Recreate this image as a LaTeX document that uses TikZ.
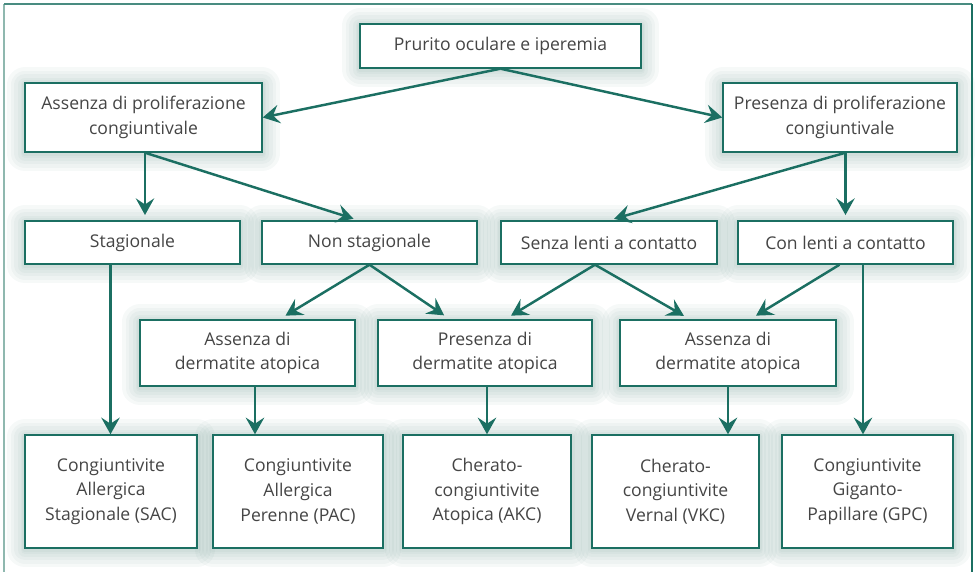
\documentclass[tikz,border=0pt]{standalone}
\usepackage{fontspec}
\setmainfont{Open Sans}
\usetikzlibrary{arrows.meta,calc}
\definecolor{tl}{HTML}{1B6F62}
\definecolor{txt}{HTML}{454545}
\definecolor{fr}{HTML}{8FB8AF}
\definecolor{glow}{HTML}{5E8C84}
\begin{document}
\begin{tikzpicture}[x=0.02cm,y=-0.02cm,
  sz/.style 2 args={minimum width=#1*0.02cm, minimum height=#2*0.02cm},
  gl/.style={preaction={draw=glow, line join=round, line width=#1, draw opacity=0.055, transform canvas={yshift=-1pt}}},
  bx/.style={draw=tl, line width=0.8pt, fill=white, text=txt, align=center, inner sep=0pt,
    font=\fontsize{10}{14}\selectfont,
    gl=20pt, gl=16pt, gl=12pt, gl=8pt, gl=5pt, gl=3pt},
  ar/.style={draw=tl, line width=1.4pt, -{Stealth[length=9.5pt,width=10.5pt,inset=3.5pt]}}]
\useasboundingbox (0,0) rectangle (975,572);
% frame
\draw[fr, line width=1.5pt] (4,572) -- (4,4);
\draw[tl!60!fr, line width=1.5pt] (4,4) -- (972,4);
\draw[tl, line width=1.5pt] (972,4) -- (972,572);
% nodes
\node[bx, sz={281}{44}] (top) at (500.5,46) {Prurito oculare e iperemia};
\node[bx, sz={237}{69}] (ap) at (143.5,117.5) {Assenza di proliferazione\\congiuntivale};
\node[bx, sz={234}{69}] (pp) at (840,117.5) {Presenza di proliferazione\\congiuntivale};
\node[bx, sz={215}{43}] (st) at (132.5,242.5) {Stagionale};
\node[bx, sz={215}{43}] (ns) at (369.5,242.5) {Non stagionale};
\node[bx, sz={216}{43}] (sl) at (609,242.5) {Senza lenti a contatto};
\node[bx, sz={215}{43}] (cl) at (845.5,242.5) {Con lenti a contatto};
\node[bx, sz={215}{66}] (ad1) at (247.5,353) {Assenza di\\dermatite atopica};
\node[bx, sz={214}{66}] (pd) at (485,353) {Presenza di\\dermatite atopica};
\node[bx, sz={216}{66}] (ad2) at (728,353) {Assenza di\\dermatite atopica};
\node[bx, sz={172}{113}] (sac) at (111,491.5) {Congiuntivite\\Allergica\\Stagionale (SAC)};
\node[bx, sz={170}{113}] (pac) at (298,491.5) {Congiuntivite\\Allergica\\Perenne (PAC)};
\node[bx, sz={168}{113}] (akc) at (487,491.5) {Cherato-\\congiuntivite\\Atopica (AKC)};
\node[bx, sz={167}{113}] (vkc) at (675.5,491.5) {Cherato-\\congiuntivite\\Vernal (VKC)};
\node[bx, sz={171}{113}] (gpc) at (867.5,491.5) {Congiuntivite\\Giganto-\\Papillare (GPC)};
% connectors
\draw[ar] (top.south) -- (ap.east);
\draw[ar] (top.south) -- (pp.west);
\coordinate (apb) at ($(ap.south)+(1.5,0)$);
\draw[ar, shorten >=3pt] (apb) -- (apb |- st.north);
\draw[ar, shorten >=3pt] (apb) -- ($(ns.north)+(-11,0)$);
\coordinate (ppb) at (cl.north |- pp.south);
\draw[ar, shorten >=3pt] (ppb) -- (cl.north);
\draw[ar, shorten >=3pt] (ppb) -- (sl.north);
\draw[ar, shorten >=4pt] (ns.south) -- ($(ad1.north)+(32,0)$);
\draw[ar, shorten >=4pt] (ns.south) -- ($(pd.north)+(-35,0)$);
\coordinate (slb) at ($(sl.south)+(-14,0)$);
\draw[ar, shorten >=4pt] (slb) -- ($(pd.north)+(20,0)$);
\draw[ar, shorten >=4pt] (slb) -- ($(ad2.north)+(-38,0)$);
\draw[ar, shorten >=4pt] ($(cl.south)+(-6,0)$) -- ($(ad2.north)+(22,0)$);
\coordinate (clb) at ($(cl.south)+(17.5,0)$);
\draw[ar] (clb) -- (clb |- gpc.north);
\coordinate (stb) at ($(st.south)+(-22,0)$);
\draw[ar] (stb) -- (stb |- sac.north);
\coordinate (ad1b) at ($(ad1.south)+(7.5,0)$);
\draw[ar] (ad1b) -- (ad1b |- pac.north);
\coordinate (pdb) at ($(pd.south)+(2,0)$);
\draw[ar] (pdb) -- (pdb |- akc.north);
\draw[ar] (ad2.south) -- (ad2.south |- vkc.north);
\end{tikzpicture}
\end{document}
